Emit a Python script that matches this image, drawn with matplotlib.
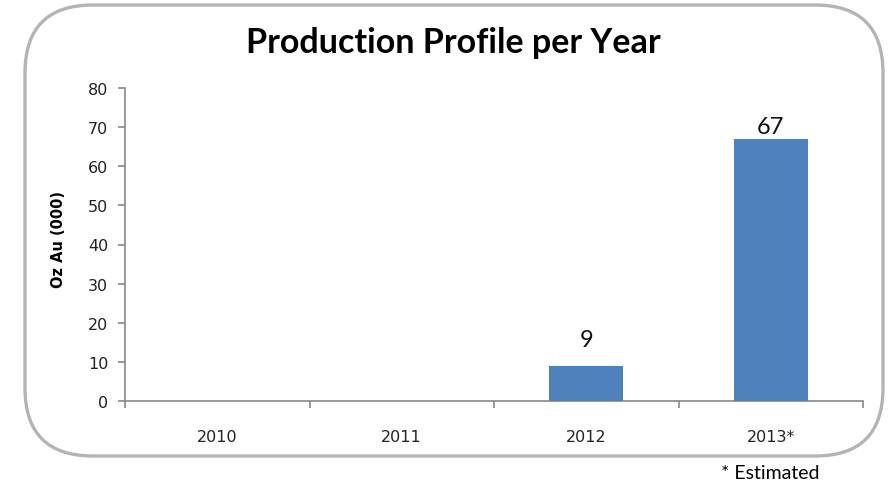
import matplotlib
matplotlib.use('Agg')
import matplotlib.pyplot as plt
from matplotlib.patches import FancyBboxPatch
import numpy as np

# data
years = ['2010', '2011', '2012', '2013*']
production = [0, 0, 9, 67]
shown_labels = ['', '', '9', '67']

bar_color = '#4F81BD'
axis_color = '#888888'

fig = plt.figure(figsize=(8.9, 4.85), dpi=100)
fig.patch.set_facecolor('white')

# background frame in pixel coordinates
bg = fig.add_axes([0, 0, 1, 1])
bg.set_xlim(0, 890)
bg.set_ylim(0, 485)
bg.axis('off')
frame = FancyBboxPatch((25, 485 - 457), 858, 451,
                       boxstyle='round,pad=0,rounding_size=68',
                       facecolor='white', edgecolor='#b4b4b4', linewidth=2.4)
bg.add_patch(frame)

ax = fig.add_axes([125 / 890, 1 - 402 / 485, 738 / 890, 313 / 485])
ax.set_facecolor('none')
x = np.arange(len(years))
bars = ax.bar(x, production, width=0.4, color=bar_color, zorder=3)

for xi, v, lab in zip(x, production, shown_labels):
    if lab:
        # small bars get a wider gap, tall ones sit just above the bar
        y = v + 4 if v + 4 < 68 else v + 0.6
        ax.text(xi, y, lab, ha='center', va='bottom', fontsize=17,
                family='Lato', color='#111111')

ax.set_xlim(-0.5, len(years) - 0.5)
ax.set_ylim(0, 80)
ax.set_yticks(range(0, 81, 10))
ax.set_xticks(x)
ax.set_xticklabels(years)
ax.set_xticks(np.arange(-0.5, len(years), 1), minor=True)

for s in ['top', 'right']:
    ax.spines[s].set_visible(False)
for s in ['left', 'bottom']:
    ax.spines[s].set_color(axis_color)
    ax.spines[s].set_linewidth(1.2)

ax.tick_params(axis='y', direction='out', length=5, width=1.2, color=axis_color,
               pad=7, labelsize=11.5, labelcolor='#222222')
ax.tick_params(axis='x', which='major', length=0, pad=20, labelsize=11.5,
               labelcolor='#222222')
ax.tick_params(axis='x', which='minor', direction='out', length=5, width=1.2,
               color=axis_color)

ax.set_ylabel('Oz Au (000)', fontsize=10.5, fontweight='bold', color='black')
ax.yaxis.set_label_coords(-0.08, 0.52)

fig.text(453 / 890, 1 - 43 / 485, 'Production Profile per Year', ha='center',
         va='center', fontsize=24.5, fontweight='bold', family='Lato', color='black')
fig.text(770 / 890, 1 - 474 / 485, '* Estimated', ha='center', va='center',
         fontsize=14, family='Lato', color='black')

fig.savefig('out.png', dpi=100)
